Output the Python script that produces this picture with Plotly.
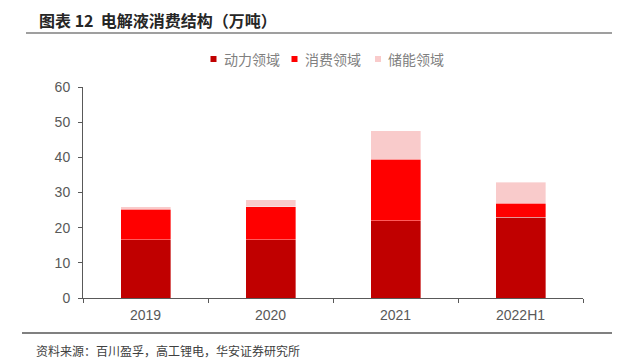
import plotly.graph_objects as go

categories = ["2019", "2020", "2021", "2022H1"]
power = [16.5, 16.5, 21.9, 23.0]
consumer = [8.7, 9.4, 17.6, 4.0]
storage = [0.8, 2.0, 8.1, 5.9]
series_names = ["动力领域", "消费领域", "储能领域"]
colors = ["#C00000", "#FF0000", "#F9CBCB"]
y_ticks = [0, 10, 20, 30, 40, 50, 60]

# page body has an 8px margin; plot area sits at x 83..583, y 87..298 in window pixels
OFF = 8
PL, PT, PW, PH = 83, 87, 500, 211


def px(x):
    return (x - PL) / PW


def py(y):
    return (PT + PH - y) / PH


fig = go.Figure()
for name, vals, c in zip(series_names, [power, consumer, storage], colors):
    fig.add_trace(go.Bar(x=categories, y=vals, name=name, showlegend=False,
                         marker=dict(color=c, line=dict(width=0.6, color="rgba(255,255,255,0.6)")),
                         width=0.4))

fig.update_layout(
    barmode="stack",
    width=620 - OFF, height=364 - OFF,
    paper_bgcolor="white", plot_bgcolor="white",
    margin=dict(l=PL - OFF, r=620 - PL - PW, t=PT - OFF, b=364 - PT - PH),
    font=dict(family="Liberation Sans, Arial, sans-serif", color="#595959"),
    showlegend=False,
    xaxis=dict(showline=True, linecolor="#595959", linewidth=1, ticks="outside", tickson="boundaries",
               ticklen=4, tickcolor="#595959", tickfont=dict(size=14, color="#595959"), showgrid=False,
               ticklabelstandoff=4),
    yaxis=dict(range=[0, 60], tickvals=y_ticks, showline=True, linecolor="#595959", linewidth=1,
               ticks="outside", ticklen=4, tickcolor="#595959", showgrid=False, zeroline=False,
               tickfont=dict(size=14, color="#595959"), ticklabelstandoff=5),
)

# manual legend (small squares like the reference)
leg_sq_x = [213.5, 294.5, 378]
leg_y = 59
for name, c, sx in zip(series_names, colors, leg_sq_x):
    fig.add_shape(type="rect", xref="paper", yref="paper", x0=px(sx - 3), x1=px(sx + 3),
                  y0=py(leg_y + 3), y1=py(leg_y - 3), line=dict(width=0), fillcolor=c)
    fig.add_annotation(text=name, xref="paper", yref="paper", x=px(sx + 8), xanchor="left",
                       y=py(leg_y), yanchor="middle", showarrow=False,
                       font=dict(family="Noto Sans CJK SC", size=14, color="#808080"))

fig.add_annotation(text="<b>图表 12  电解液消费结构（万吨）</b>", xref="paper", yref="paper",
                   x=px(37), xanchor="left", y=py(20), yanchor="middle", showarrow=False,
                   font=dict(family="Noto Sans CJK SC", size=16, color="#262626"))
fig.add_annotation(text="资料来源：百川盈孚，高工锂电，华安证券研究所", xref="paper", yref="paper",
                   x=px(34), xanchor="left", y=py(350), yanchor="middle",
                   showarrow=False, font=dict(family="Noto Sans CJK SC", size=12, color="#404040"))
fig.add_shape(type="line", xref="paper", yref="paper", x0=px(26), x1=px(620),
              y0=py(33), y1=py(33), line=dict(color="#404040", width=1.2))
fig.add_shape(type="line", xref="paper", yref="paper", x0=px(22), x1=px(620),
              y0=py(333), y1=py(333), line=dict(color="#808080", width=2))

fig.write_html("out.html")
